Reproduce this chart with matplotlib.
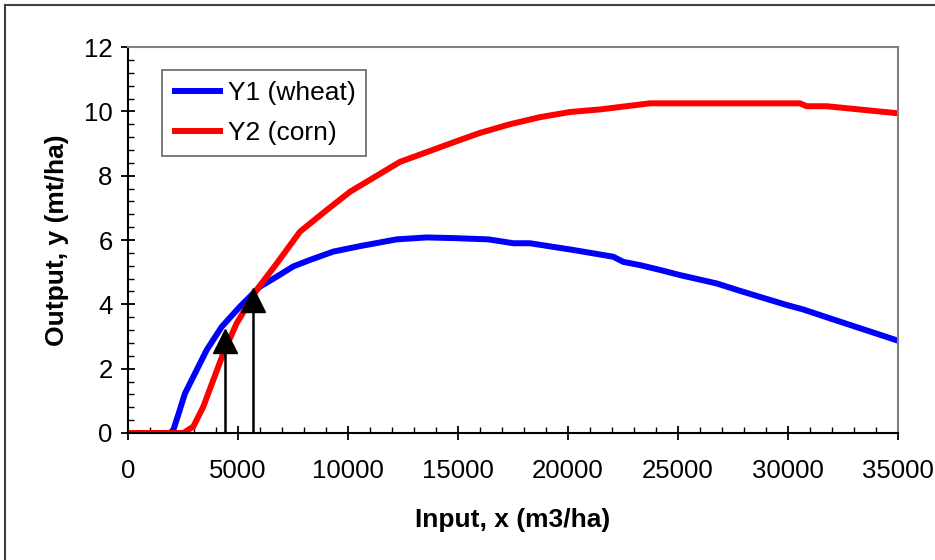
import numpy as np
import matplotlib.pyplot as plt
from matplotlib.ticker import MultipleLocator
from matplotlib.lines import Line2D

plt.rcParams['font.family'] = ['Liberation Sans', 'DejaVu Sans']

# Y1 (wheat)
x_wheat = [0, 1900, 2060, 2300, 2590, 2970, 3576, 4258, 5090, 6000, 6760, 7515, 8270,
           9333, 10545, 12212, 13576, 14788, 16379, 17515, 18270, 20242, 22060, 22515,
           23270, 24182, 25090, 26758, 27818, 29939, 30697, 32060, 35000]
y_wheat = [0, 0, 0.09, 0.6, 1.23, 1.75, 2.58, 3.30, 3.93, 4.55, 4.86, 5.18, 5.38,
           5.64, 5.81, 6.02, 6.08, 6.06, 6.02, 5.9, 5.9, 5.69, 5.48, 5.32,
           5.22, 5.07, 4.91, 4.65, 4.42, 3.98, 3.84, 3.53, 2.87]

# Y2 (corn)
x_corn = [0, 2515, 2970, 3424, 4333, 4940, 5850, 6760, 7818, 9030, 10090, 12364, 15090,
          16000, 17364, 18727, 20090, 21455, 23727, 30545, 30850, 31758, 35000]
y_corn = [0, 0, 0.2, 0.82, 2.48, 3.41, 4.45, 5.27, 6.26, 6.93, 7.5, 8.43, 9.11,
          9.33, 9.6, 9.82, 9.98, 10.06, 10.25, 10.25, 10.16, 10.16, 9.94]

# marked points
x_mark = [4400, 5700]
y_mark = [2.85, 4.15]

fig = plt.figure(figsize=(9.35, 5.6), dpi=100)
ax = fig.add_axes([0.1369, 0.2268, 0.8235, 0.6892])

ax.plot(x_wheat, y_wheat, color='#0000ff', lw=4.3, label='Y1 (wheat)', solid_capstyle='butt')
ax.plot(x_corn, y_corn, color='#ff0000', lw=4.3, label='Y2 (corn)', solid_capstyle='butt')

for xm, ym in zip(x_mark, y_mark):
    ax.plot([xm, xm], [0, ym], color='black', lw=1.8)
ax.plot(x_mark, y_mark, linestyle='none', marker='^', markersize=17, color='black')

ax.set_xlim(0, 35000)
ax.set_ylim(0, 12)
ax.xaxis.set_major_locator(MultipleLocator(5000))
ax.xaxis.set_minor_locator(MultipleLocator(1000))
ax.yaxis.set_major_locator(MultipleLocator(2))
ax.yaxis.set_minor_locator(MultipleLocator(0.4))
ax.tick_params(which='major', direction='inout', length=10, width=1.3, labelsize=18.5, pad=6)
ax.tick_params(which='minor', direction='in', length=4.5, width=1.0)
ax.tick_params(axis='x', which='major', pad=14)

for s in ['left', 'bottom']:
    ax.spines[s].set_color('black')
    ax.spines[s].set_linewidth(1.5)
for s in ['top', 'right']:
    ax.spines[s].set_color('#808080')
    ax.spines[s].set_linewidth(1.5)

ax.set_xlabel('Input, x (m3/ha)', fontsize=19, fontweight='bold', labelpad=18)
ax.set_ylabel('Output, y (mt/ha)', fontsize=19, fontweight='bold', labelpad=11)

leg = ax.legend(loc='upper left', bbox_to_anchor=(0.044, 0.94), fontsize=19, frameon=True,
                fancybox=False, edgecolor='#404040', handlelength=1.9, handletextpad=0.2,
                borderpad=0.4, labelspacing=0.62, borderaxespad=0)
leg.get_frame().set_linewidth(1.2)

# outer chart border (left and top visible)
fig.add_artist(Line2D([5 / 935, 5 / 935], [0, 1 - 5 / 560], color='#404040', lw=1.5, transform=fig.transFigure))
fig.add_artist(Line2D([5 / 935, 1], [1 - 5 / 560, 1 - 5 / 560], color='#404040', lw=1.5, transform=fig.transFigure))

fig.savefig('out.png', dpi=100)
